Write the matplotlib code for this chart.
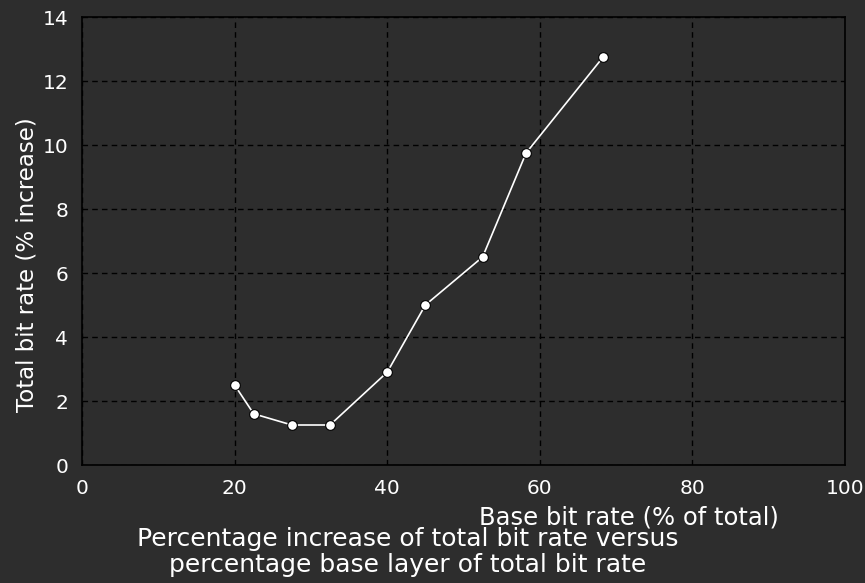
import matplotlib
matplotlib.use("Agg")
import matplotlib.pyplot as plt

# Base layer share of total bit rate (%) and resulting total bit rate increase (%)
base_share = [20, 22.5, 27.5, 32.5, 40, 45, 52.5, 58.2, 68.3]
total_increase = [2.5, 1.6, 1.25, 1.25, 2.9, 5.0, 6.5, 9.75, 12.75]

x_ticks = [0, 20, 40, 60, 80, 100]
y_ticks = [0, 2, 4, 6, 8, 10, 12, 14]

bg = "#2d2d2d"
plt.rcParams["font.family"] = ["DejaVu Sans"]

fig = plt.figure(figsize=(8.65, 5.83), dpi=100, facecolor=bg)
ax = fig.add_axes([0.0948, 0.2024, 0.8821, 0.7684], facecolor=bg)

ax.plot(base_share, total_increase, color="white", lw=1.2,
        marker="o", ms=7, mfc="white", mec="black", mew=0.8, zorder=3)

ax.set_xlim(0, 100)
ax.set_ylim(0, 14)
ax.set_xticks(x_ticks)
ax.set_yticks(y_ticks)
ax.tick_params(axis="both", length=0, labelsize=14.5, labelcolor="white")
ax.tick_params(axis="x", pad=10)
ax.tick_params(axis="y", pad=10)

ax.grid(True, color="black", linestyle=(0, (4, 3)), linewidth=1.0)
for s in ax.spines.values():
    s.set_color("black")
    s.set_linewidth(1.2)

ax.set_ylabel("Total bit rate (% increase)", color="white", fontsize=16.5,
              va="center", ha="center")
ax.yaxis.set_label_coords(27 / 865, (583 - 265) / 583, transform=fig.transFigure)

fig.text(629 / 865, 1 - 517 / 583, "Base bit rate (% of total)",
         color="white", fontsize=17.5, ha="center", va="center")
fig.text(408 / 865, 1 - 552 / 583,
         "Percentage increase of total bit rate versus\npercentage base layer of total bit rate",
         color="white", fontsize=18, ha="center", va="center", linespacing=1.15)

fig.savefig("out.png", dpi=100, facecolor=bg)
